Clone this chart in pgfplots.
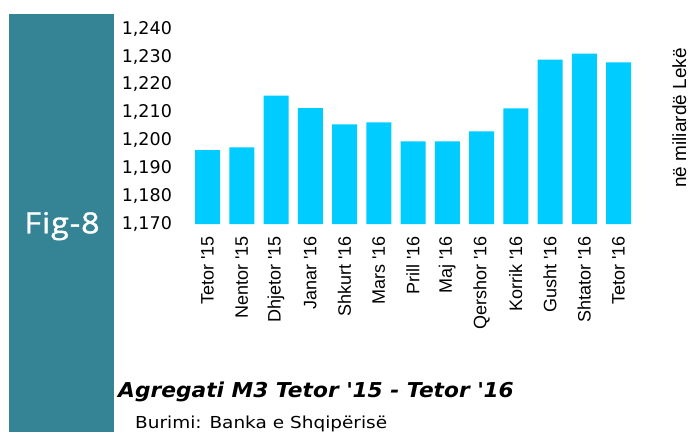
\documentclass[border=0pt]{standalone}
\usepackage{pgfplots}
\pgfplotsset{compat=1.18}
\usepackage{fontspec}
\setmainfont{DejaVu Sans}
\newfontfamily\labfont{Liberation Sans}
\newfontfamily\figfont[FakeStretch=1.12, FakeBold=1.2, LetterSpace=3]{Open Sans}
\newfontfamily\titlefont[FakeStretch=1.06]{DejaVu Sans}
\newfontfamily\srcfont[FakeStretch=1.12]{DejaVu Sans}
\definecolor{tealpanel}{RGB}{52,132,150}
\definecolor{barc}{RGB}{0,204,255}
\begin{document}
\begin{tikzpicture}
\useasboundingbox (0pt,0pt) rectangle (691pt,432pt);
\fill[tealpanel] (9pt,0pt) rectangle (114pt,418pt);
\node[anchor=base, inner sep=0pt, text=white, font=\figfont\fontsize{29}{29}\selectfont] at (62pt,198.7pt) {Fig-8};
\begin{axis}[
  at={(180.1pt,208pt)}, anchor=south west,
  x=34.25pt, y=2.79pt,
  xmin=-0.8, xmax=12.63, ymin=1170, ymax=1240,
  ybar, bar width=25pt,
  axis line style={draw=none},
  major tick length=0pt,
  xtick=data,
  xticklabels={Tetor \textquotesingle15, Nentor \textquotesingle15, Dhjetor \textquotesingle15, Janar \textquotesingle16, Shkurt \textquotesingle16, Mars \textquotesingle16, Prill \textquotesingle16, Maj \textquotesingle16, Qershor \textquotesingle16, Korrik \textquotesingle16, Gusht \textquotesingle16, Shtator \textquotesingle16, Tetor \textquotesingle16},
  xticklabel style={yshift=-12pt, rotate=90, anchor=east, inner sep=0pt, font=\labfont\fontsize{18}{18}\selectfont},
  ytick={1170,1180,...,1240},
  yticklabel style={xshift=-8pt, anchor=east, inner sep=0pt, font=\fontsize{17.5}{17.5}\selectfont,
    /pgf/number format/.cd, 1000 sep={,}, assume math mode=true},
  scaled y ticks=false,
]
\addplot[fill=barc, draw=none] coordinates {
(0,1196.5) (1,1197.5) (2,1216.0) (3,1211.5) (4,1205.7) (5,1206.4) (6,1199.6)
(7,1199.6) (8,1203.2) (9,1211.4) (10,1228.9) (11,1231.1) (12,1227.9)};
\end{axis}
\node[rotate=90, anchor=base, inner sep=0pt, font=\labfont\fontsize{19}{19}\selectfont] at (686pt,314pt) {në miliardë Lekë};
\node[anchor=base west, inner sep=0pt, font=\titlefont\bfseries\itshape\fontsize{20.5}{20.5}\selectfont] at (118pt,35pt) {Agregati M3 Tetor \textquotesingle15 - Tetor \textquotesingle16};
\node[anchor=base west, inner sep=0pt, font=\srcfont\fontsize{16.5}{16.5}\selectfont] at (135pt,4pt) {Burimi: Banka e Shqipërisë};
\end{tikzpicture}
\end{document}
